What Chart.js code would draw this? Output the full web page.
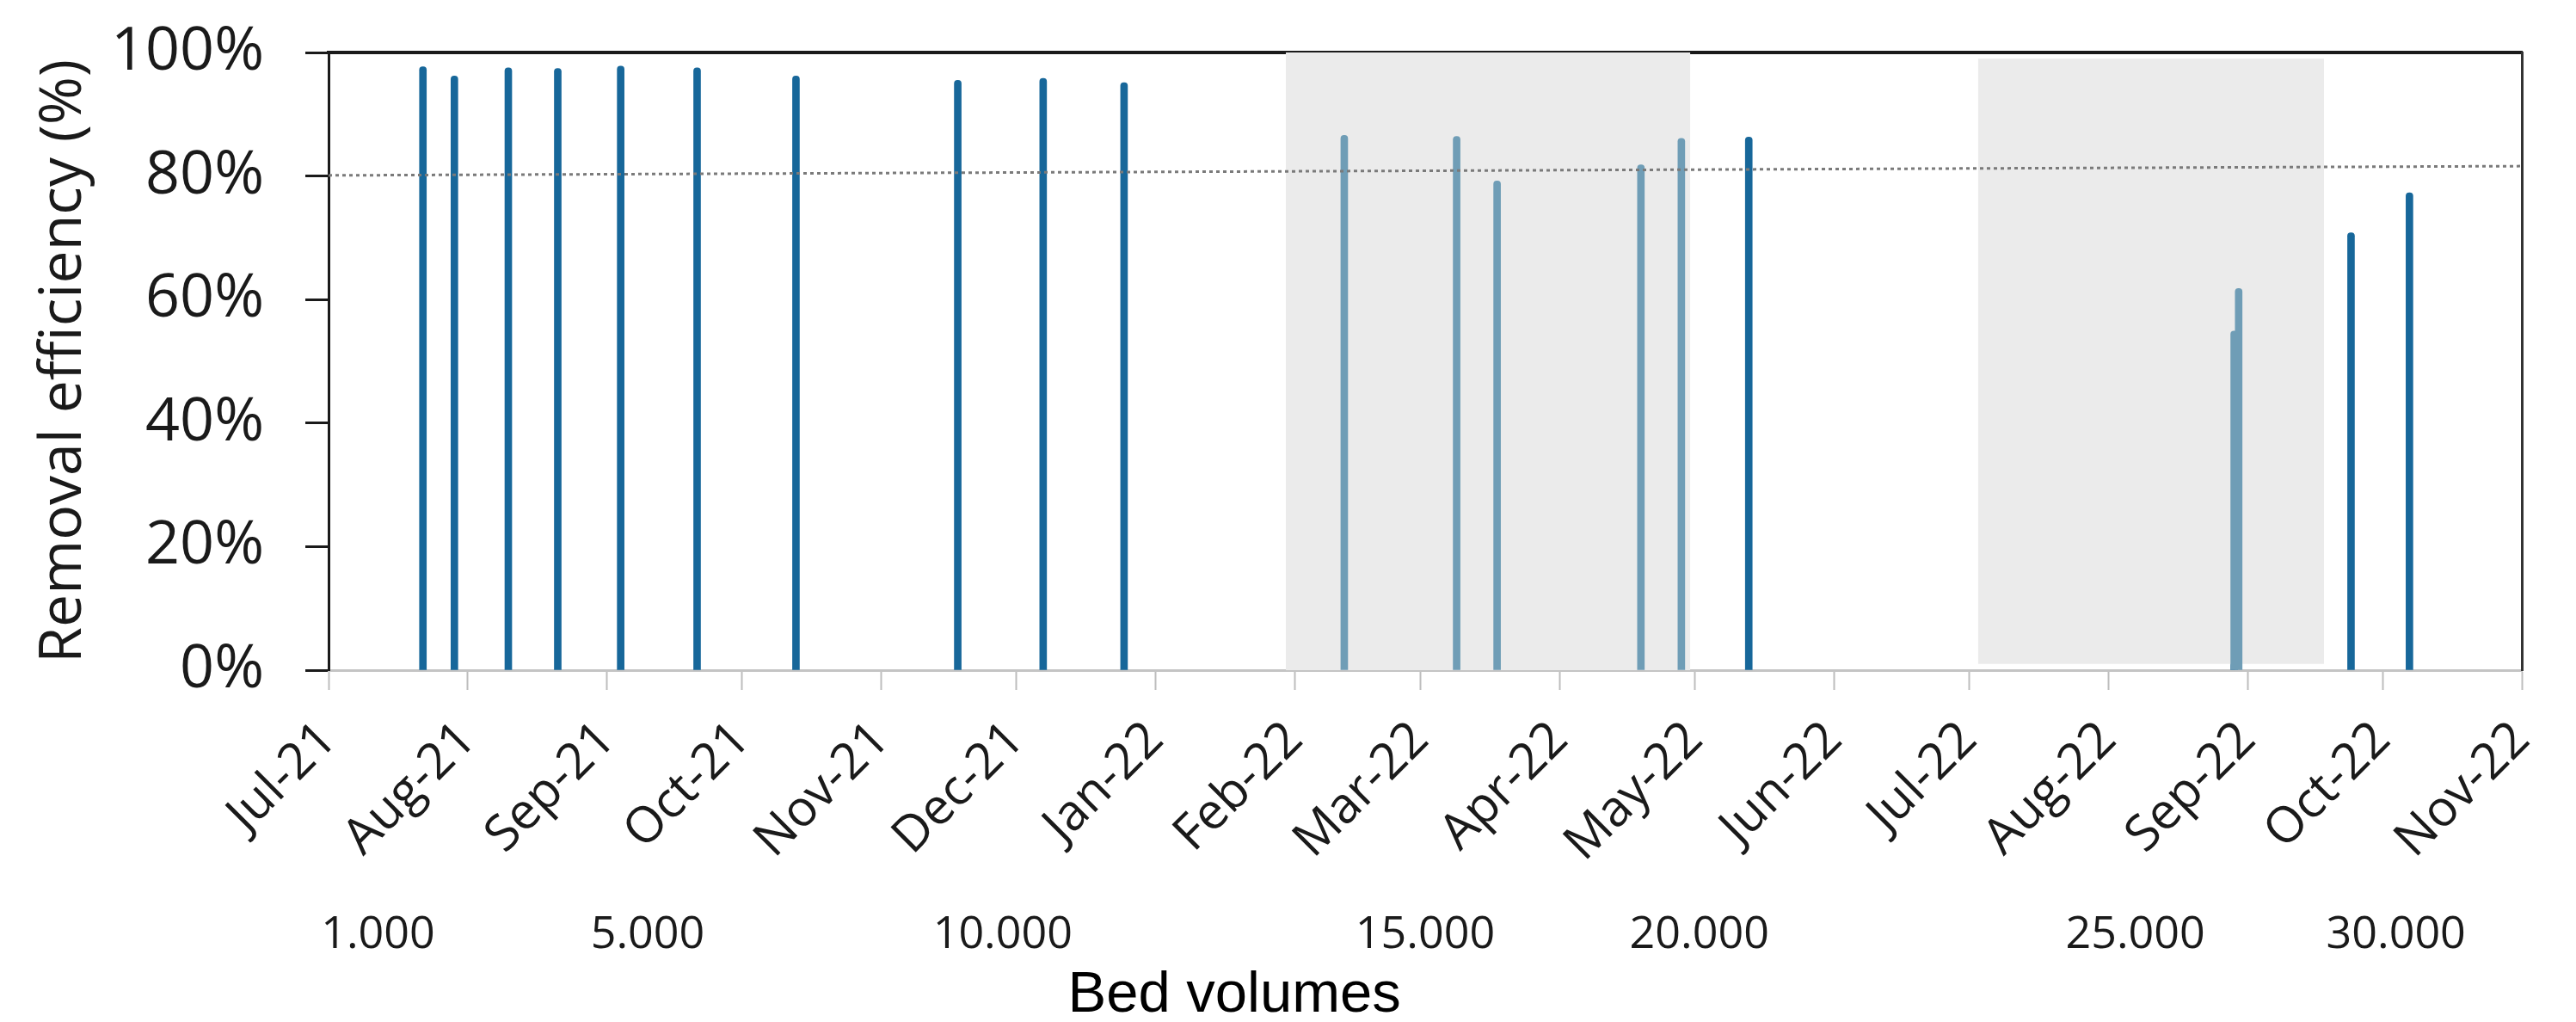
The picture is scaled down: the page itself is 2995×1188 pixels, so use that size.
<!DOCTYPE html>
<html>
<head>
<meta charset="utf-8">
<title>Removal efficiency vs bed volumes</title>
<script src="https://cdn.jsdelivr.net/npm/chart.js"></script>
<style>
  html, body { margin: 0; padding: 0; background: #fff; }
  #wrap { width: 2995px; height: 1188px; }
</style>
</head>
<body>
<div id="wrap"><canvas id="effChart"></canvas></div>
<script>
    // --- data ---
    const startDate = '2021-07-01';
    const endDate = '2022-11-01';

    const monthDates = ['2021-07-01', '2021-08-01', '2021-09-01', '2021-10-01', '2021-11-01', '2021-12-01',
        '2022-01-01', '2022-02-01', '2022-03-01', '2022-04-01', '2022-05-01', '2022-06-01',
        '2022-07-01', '2022-08-01', '2022-09-01', '2022-10-01', '2022-11-01'];
    const monthLabels = ['Jul-21', 'Aug-21', 'Sep-21', 'Oct-21', 'Nov-21', 'Dec-21', 'Jan-22', 'Feb-22',
        'Mar-22', 'Apr-22', 'May-22', 'Jun-22', 'Jul-22', 'Aug-22', 'Sep-22', 'Oct-22', 'Nov-22'];

    const yTicks = [0, 20, 40, 60, 80, 100];

    // normal operation (dark bars)
    const normalDates = ['2021-07-22', '2021-07-29', '2021-08-10', '2021-08-21', '2021-09-04', '2021-09-21',
        '2021-10-13', '2021-11-18', '2021-12-07', '2021-12-25', '2022-05-13', '2022-08-29',
        '2022-09-24', '2022-10-07'];
    const normalValues = [97.7, 96.2, 97.5, 97.4, 97.8, 97.5, 96.2, 95.5, 95.8, 95.1, 86.3, 1.2, 70.8, 77.3];

    // samples inside the shaded periods (light bars)
    const shadedDates = ['2022-02-12', '2022-03-09', '2022-03-18', '2022-04-19', '2022-04-28', '2022-08-29', '2022-08-30'];
    const shadedValues = [86.6, 86.4, 79.2, 81.8, 86.1, 54.9, 61.8];

    // shaded periods
    const periodStarts = ['2022-01-30', '2022-07-03'];
    const periodEnds = ['2022-04-30', '2022-09-18'];
    const periodLows = [0, 1];
    const periodHighs = [100, 99];

    // dotted trend line
    const trendDates = ['2021-07-01', '2022-11-01'];
    const trendValues = [80.1, 81.6];

    // secondary axis: bed volumes reached
    const bedVolumeDates = ['2021-07-12', '2021-09-10', '2021-11-28', '2022-03-02', '2022-05-02', '2022-08-07', '2022-10-04'];
    const bedVolumeLabels = ['1.000', '5.000', '10.000', '15.000', '20.000', '25.000', '30.000'];

    const darkBlue = '#17679a';
    const lightBlue = '#6f9db6';
    const shadeGrey = '#ebebeb';
    const sansFont = "'Open Sans', 'Noto Sans', sans-serif";

    const day = d => (Date.parse(d) - Date.parse(startDate)) / 86400000;
    const xMax = day(endDate);
    const toPoints = (dates, vals) => dates.map((d, i) => ({ x: day(d), y: vals[i] }));

    // keep label overhang from pushing the plot area around
    const noPad = s => { s.paddingTop = 0; s.paddingBottom = 0; s.paddingLeft = 0; s.paddingRight = 0; };

    const periodSets = periodStarts.map((s, i) => ({
        type: 'line',
        data: [{ x: day(s), y: periodHighs[i] }, { x: day(periodEnds[i]), y: periodHighs[i] }],
        borderWidth: 0,
        pointRadius: 0,
        backgroundColor: shadeGrey,
        fill: { value: periodLows[i] },
        order: 5,
        xAxisID: 'x',
        yAxisID: 'y'
    }));

    // "Bed volumes" sits left of centre in the original
    const bedVolumeTitle = {
        id: 'bedVolumeTitle',
        afterDraw(chart) {
            const { ctx, chartArea } = chart;
            const s = chart.scales.x2;
            ctx.save();
            ctx.font = "67px 'Liberation Sans', Arial, sans-serif";
            ctx.fillStyle = '#000';
            ctx.textAlign = 'center';
            ctx.textBaseline = 'alphabetic';
            ctx.fillText('Bed volumes', chartArea.left + 0.413 * (chartArea.right - chartArea.left), s.bottom - 12);
            ctx.restore();
        }
    };

    const ctx = document.getElementById('effChart').getContext('2d');
    new Chart(ctx, {
        type: 'bar',
        data: {
            datasets: [
                {
                    type: 'line',
                    data: toPoints(trendDates, trendValues),
                    borderColor: '#7a7a7a',
                    borderWidth: 3,
                    borderDash: [4, 4],
                    pointRadius: 0,
                    fill: false,
                    order: 0,
                    xAxisID: 'x',
                    yAxisID: 'y'
                },
                {
                    data: toPoints(normalDates, normalValues),
                    backgroundColor: darkBlue,
                    order: 2,
                    xAxisID: 'x',
                    yAxisID: 'y'
                },
                {
                    data: toPoints(shadedDates, shadedValues),
                    backgroundColor: lightBlue,
                    order: 1,
                    xAxisID: 'x',
                    yAxisID: 'y'
                },
                ...periodSets
            ]
        },
        options: {
            responsive: true,
            maintainAspectRatio: false,
            animation: false,
            layout: { padding: { top: 61, right: 63, left: 0, bottom: 0 } },
            datasets: {
                bar: { barThickness: 8, grouped: false, borderRadius: 4, borderSkipped: 'start' }
            },
            plugins: {
                legend: { display: false },
                tooltip: { enabled: false }
            },
            scales: {
                x: {
                    type: 'linear',
                    position: 'bottom',
                    min: 0,
                    max: xMax,
                    offset: false,
                    weight: 0,
                    afterBuildTicks: s => { s.ticks = monthDates.map(d => ({ value: day(d) })); },
                    afterFit: s => { s.height = 265; noPad(s); },
                    ticks: {
                        autoSkip: false,
                        minRotation: 45,
                        maxRotation: 45,
                        padding: 24,
                        color: '#1a1a1a',
                        font: { family: sansFont, size: 58 },
                        callback: (v, i) => monthLabels[i]
                    },
                    grid: {
                        offset: false,
                        drawOnChartArea: false,
                        drawTicks: true,
                        tickLength: 23,
                        tickWidth: 2,
                        tickColor: '#bdbdbd'
                    },
                    border: { color: '#c4c4c4', width: 3 }
                },
                x2: {
                    type: 'linear',
                    position: 'bottom',
                    min: 0,
                    max: xMax,
                    offset: false,
                    weight: 1,
                    afterBuildTicks: s => { s.ticks = bedVolumeDates.map(d => ({ value: day(d) })); },
                    afterFit: s => { s.height = 144; noPad(s); },
                    ticks: {
                        autoSkip: false,
                        maxRotation: 0,
                        padding: 4,
                        color: '#1a1a1a',
                        font: { family: sansFont, size: 52 },
                        callback: (v, i) => bedVolumeLabels[i]
                    },
                    grid: { display: false },
                    border: { display: false }
                },
                xTop: {
                    type: 'linear',
                    position: 'top',
                    min: 0,
                    max: xMax,
                    afterFit: s => { s.height = 0; noPad(s); },
                    ticks: { display: false },
                    grid: { drawOnChartArea: false, drawTicks: false },
                    border: { color: '#1a1a1a', width: 4 }
                },
                y: {
                    min: 0,
                    max: 100,
                    afterBuildTicks: s => { s.ticks = yTicks.map(v => ({ value: v })); },
                    afterFit: s => { s.width = 382; noPad(s); },
                    ticks: {
                        padding: 48,
                        color: '#1a1a1a',
                        font: { family: sansFont, size: 70 },
                        callback: v => v + '%'
                    },
                    grid: {
                        drawOnChartArea: false,
                        drawTicks: true,
                        tickLength: 27,
                        tickWidth: 3,
                        tickColor: '#1a1a1a'
                    },
                    border: { color: '#1a1a1a', width: 3 },
                    title: {
                        display: true,
                        text: 'Removal efficiency (%)',
                        color: '#1a1a1a',
                        font: { family: sansFont, size: 68 },
                        padding: { top: 34, bottom: 0 }
                    }
                },
                yRight: {
                    type: 'linear',
                    position: 'right',
                    min: 0,
                    max: 100,
                    afterFit: s => { s.width = 0; noPad(s); },
                    ticks: { display: false },
                    grid: { drawOnChartArea: false, drawTicks: false },
                    border: { color: '#333', width: 3 }
                }
            }
        },
        plugins: [bedVolumeTitle]
    });
</script>
</body>
</html>
